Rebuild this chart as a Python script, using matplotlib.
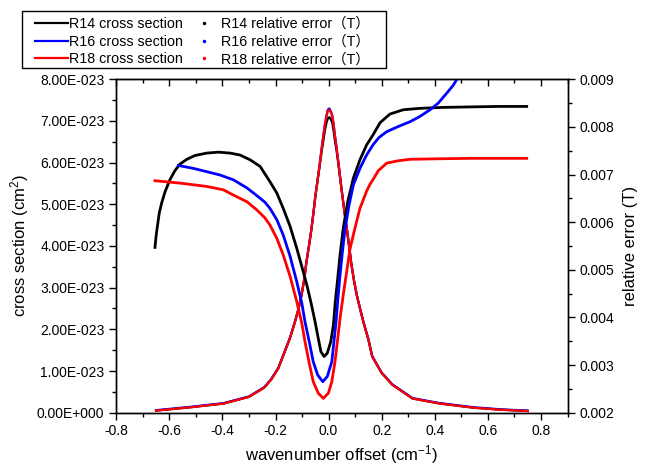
import numpy as np
import matplotlib
matplotlib.use('Agg')
import matplotlib.pyplot as plt
from matplotlib.ticker import MultipleLocator, FuncFormatter, FormatStrFormatter
from matplotlib.lines import Line2D
from matplotlib.patches import Rectangle

plt.rcParams['font.family'] = ['Liberation Sans', 'Noto Sans CJK SC', 'DejaVu Sans']
plt.rcParams['mathtext.fontset'] = 'custom'
plt.rcParams['mathtext.rm'] = 'Liberation Sans'
plt.rcParams['mathtext.it'] = 'Liberation Sans:italic'

# cross sections (units of 1e-23 cm^2)
x_cs = [-0.65, -0.52, -0.395, -0.3, -0.243, -0.217, -0.19, -0.166, -0.145, -0.128,
        -0.115, -0.103, -0.093, -0.084, -0.074, -0.065, -0.057, -0.05, -0.041, -0.033,
        -0.026, -0.02, -0.014, -0.008, -0.003, 0.003, 0.009, 0.014, 0.019, 0.024,
        0.03, 0.037, 0.044, 0.052, 0.06, 0.069, 0.077, 0.085, 0.096, 0.107,
        0.12, 0.132, 0.15, 0.164, 0.2, 0.24, 0.316, 0.418, 0.545, 0.65, 0.75]
cs_r14 = [0.05, 0.13, 0.22, 0.38, 0.6, 0.79, 1.06, 1.45, 1.8, 2.15,
          2.45, 2.79, 3.15, 3.59, 4.0, 4.39, 4.8, 5.19, 5.6, 5.95,
          6.28, 6.52, 6.78, 6.96, 7.06, 7.09, 7.03, 6.95, 6.75, 6.52,
          6.28, 5.95, 5.6, 5.19, 4.8, 4.39, 4.0, 3.59, 3.15, 2.79,
          2.45, 2.15, 1.75, 1.35, 0.95, 0.67, 0.34, 0.22, 0.12, 0.07, 0.04]
cs_r16 = [0.06, 0.14, 0.23, 0.39, 0.61, 0.8, 1.07, 1.46, 1.81, 2.16,
          2.46, 2.8, 3.16, 3.6, 4.01, 4.4, 4.81, 5.2, 5.61, 6.0,
          6.36, 6.65, 6.92, 7.13, 7.27, 7.30, 7.22, 7.12, 6.91, 6.64,
          6.36, 6.0, 5.61, 5.2, 4.81, 4.4, 4.01, 3.6, 3.16, 2.8,
          2.46, 2.16, 1.76, 1.36, 0.96, 0.68, 0.35, 0.23, 0.13, 0.08, 0.05]
cs_r18 = [0.05, 0.13, 0.22, 0.38, 0.6, 0.79, 1.06, 1.45, 1.8, 2.15,
          2.45, 2.79, 3.15, 3.59, 4.0, 4.39, 4.8, 5.19, 5.6, 5.99,
          6.35, 6.63, 6.9, 7.11, 7.24, 7.27, 7.2, 7.11, 6.9, 6.63,
          6.35, 5.99, 5.6, 5.19, 4.8, 4.39, 4.0, 3.59, 3.15, 2.79,
          2.45, 2.15, 1.75, 1.35, 0.95, 0.67, 0.34, 0.22, 0.12, 0.07, 0.04]

# relative error in transmission (right axis)
x_e14 = [-0.654, -0.650, -0.645, -0.638, -0.629, -0.616, -0.597, -0.579, -0.560, -0.534,
         -0.503, -0.459, -0.415, -0.371, -0.334, -0.296, -0.258, -0.221, -0.195, -0.171,
         -0.145, -0.120, -0.101, -0.082, -0.066, -0.051, -0.039, -0.029, -0.017, -0.005,
         0.008, 0.018, 0.025, 0.033, 0.043, 0.055, 0.072, 0.093, 0.118, 0.143,
         0.168, 0.194, 0.231, 0.281, 0.344, 0.432, 0.533, 0.640, 0.746]
err_r14 = [0.00547, 0.00570, 0.00591, 0.00619, 0.00640, 0.00664, 0.00690, 0.00708, 0.00722, 0.00732,
           0.00740, 0.00745, 0.00747, 0.00745, 0.00741, 0.00731, 0.00717, 0.00685, 0.00661, 0.00629,
           0.00591, 0.00545, 0.00507, 0.00468, 0.00430, 0.00391, 0.00356, 0.00328, 0.00318, 0.00325,
           0.00349, 0.00384, 0.00433, 0.00475, 0.00531, 0.00587, 0.00643, 0.00692, 0.00731, 0.00762,
           0.00784, 0.00809, 0.00827, 0.00836, 0.00839, 0.00841, 0.00842, 0.00843, 0.00843]
x_e16 = [-0.566, -0.510, -0.459, -0.409, -0.359, -0.308, -0.271, -0.240, -0.221, -0.195,
         -0.171, -0.145, -0.120, -0.101, -0.089, -0.073, -0.058, -0.041, -0.022, -0.005,
         0.012, 0.020, 0.028, 0.035, 0.043, 0.052, 0.062, 0.077, 0.093, 0.118,
         0.143, 0.168, 0.190, 0.219, 0.263, 0.307, 0.344, 0.382, 0.413, 0.445,
         0.470, 0.489, 0.510]
err_r16 = [0.00719, 0.00713, 0.00706, 0.00699, 0.00689, 0.00672, 0.00656, 0.00642, 0.00629, 0.00605,
           0.00573, 0.00528, 0.00475, 0.00430, 0.00391, 0.00349, 0.00307, 0.00279, 0.00265, 0.00276,
           0.00307, 0.00349, 0.00391, 0.00440, 0.00489, 0.00538, 0.00587, 0.00636, 0.00678, 0.00713,
           0.00741, 0.00763, 0.00778, 0.00790, 0.00801, 0.00811, 0.00822, 0.00836, 0.00850, 0.00871,
           0.00888, 0.00906, 0.00930]
x_e18 = [-0.654, -0.560, -0.459, -0.397, -0.359, -0.308, -0.271, -0.240, -0.221, -0.195,
         -0.171, -0.145, -0.120, -0.101, -0.089, -0.073, -0.058, -0.039, -0.020, -0.001,
         0.012, 0.024, 0.033, 0.043, 0.055, 0.068, 0.081, 0.099, 0.118, 0.143,
         0.156, 0.168, 0.187, 0.219, 0.263, 0.307, 0.407, 0.533, 0.640, 0.746]
err_r18 = [0.00687, 0.00682, 0.00675, 0.00668, 0.00657, 0.00643, 0.00626, 0.00609, 0.00594, 0.00566,
           0.00531, 0.00486, 0.00433, 0.00388, 0.00349, 0.00304, 0.00265, 0.00241, 0.00230, 0.00241,
           0.00265, 0.00307, 0.00349, 0.00398, 0.00447, 0.00496, 0.00545, 0.00587, 0.00629, 0.00665,
           0.00680, 0.00690, 0.00708, 0.00724, 0.00729, 0.00732, 0.00733, 0.00734, 0.00734, 0.00734]

names = ['R14', 'R16', 'R18']
colors = ['black', '#0000ff', '#ff0000']


def sci_fmt(v, pos):
    if abs(v) < 1e-30:
        return '0.00E+000'
    e = int(np.floor(np.log10(abs(v)) + 1e-9))
    m = v / 10 ** e
    return f'{m:.2f}E{e:+04d}'


fig = plt.figure(figsize=(6.5, 4.68), dpi=100)
ax = fig.add_axes([0.1788, 0.1182, 0.6944, 0.7124])
ax2 = ax.twinx()

x_cs = np.array(x_cs)
for cs, c in zip([cs_r14, cs_r16, cs_r18], colors):
    ax.plot(x_cs, np.array(cs) * 1e-23, color=c, lw=1.6)

for xe, ye, c in zip([x_e14, x_e16, x_e18], [err_r14, err_r16, err_r18], colors):
    ax2.plot(xe, ye, color=c, lw=2.0)

ax.set_xlim(-0.8, 0.9)
ax.set_ylim(0, 8e-23)
ax2.set_ylim(0.002, 0.009)

ax.xaxis.set_major_locator(MultipleLocator(0.2))
ax.xaxis.set_minor_locator(MultipleLocator(0.1))
ax.xaxis.set_major_formatter(FormatStrFormatter('%.1f'))
ax.yaxis.set_major_locator(MultipleLocator(1e-23))
ax.yaxis.set_minor_locator(MultipleLocator(0.5e-23))
ax.yaxis.set_major_formatter(FuncFormatter(sci_fmt))
ax2.yaxis.set_major_locator(MultipleLocator(0.001))
ax2.yaxis.set_minor_locator(MultipleLocator(0.0005))
ax2.yaxis.set_major_formatter(FormatStrFormatter('%.3f'))

for a in (ax, ax2):
    a.tick_params(which='major', direction='out', length=5, width=1, labelsize=10)
    a.tick_params(which='minor', direction='out', length=3, width=1)
    for s in a.spines.values():
        s.set_linewidth(1.0)

top = ax.secondary_xaxis('top')
top.xaxis.set_major_locator(MultipleLocator(0.2))
top.xaxis.set_minor_locator(MultipleLocator(0.1))
top.tick_params(axis='x', which='major', direction='in', length=5, width=1, labeltop=False)
top.tick_params(axis='x', which='minor', direction='in', length=3, width=1)

ax.set_xlabel('wavenumber offset (cm$^{-1}$)', fontsize=12, labelpad=3)
ax.set_ylabel('cross section (cm$^{2}$)', fontsize=12, labelpad=4)
ax2.set_ylabel('relative error (T)', fontsize=12, labelpad=6)

# legend: frame drawn separately so the inner padding can match
fig.add_artist(Rectangle((22 / 650, 1 - 68 / 468), 364 / 650, 57 / 468,
                         transform=fig.transFigure, fill=False, ec='black', lw=1.0))
handles = list(ax.get_lines())
for c in colors:
    handles.append(Line2D([], [], ls='none', marker='.', markersize=3, color=c))
labels = [n + ' cross section' for n in names] + [n + ' relative error（T）' for n in names]
leg = fig.legend(handles, labels, ncol=2, loc='upper left',
                 bbox_to_anchor=(35 / 650, 1 - 17 / 468), bbox_transform=fig.transFigure,
                 borderaxespad=0, frameon=False, fontsize=10.3, handlelength=2.3,
                 handletextpad=0.08, columnspacing=0.3, labelspacing=0.25, borderpad=0)
for t in leg.get_texts()[:3]:
    t.set_family('Liberation Sans')

fig.savefig('out.png', dpi=100)
